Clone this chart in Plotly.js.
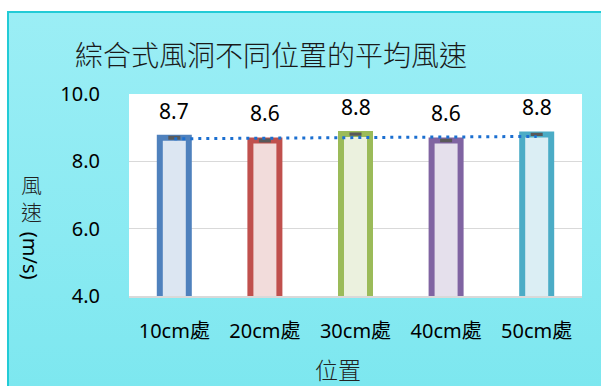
<!DOCTYPE html>
<html>
<head>
<meta charset="utf-8">
<script src="https://cdn.plot.ly/plotly-3.0.1.min.js"></script>
<style>
  html, body { margin: 0; padding: 0; background: #ffffff; width: 601px; height: 386px; overflow: hidden; }
  #bg { position: absolute; left: 7px; top: 11px; width: 600px; height: 380px;
        border-left: 2px solid #22cbd6; border-top: 2px solid #22cbd6;
        background: linear-gradient(to bottom, #9beef5 0%, #8aeaf2 60%, #7ce7ef 100%); }
  #chart { position: absolute; left: 0; top: 0; width: 601px; height: 386px; }
</style>
</head>
<body>
<div id="bg"></div>
<div id="chart"></div>
<script>
// ---- data ----
const categories = ['10cm處', '20cm處', '30cm處', '40cm處', '50cm處'];
const speeds = [8.70, 8.62, 8.81, 8.62, 8.80];
const errorValues = [0.03, 0.03, 0.02, 0.02, 0.02];
const trendCategories = ['10cm處', '50cm處'];
const trendValues = [8.67, 8.74];
const yTicks = [4, 6, 8, 10];

// ---- styles ----
const lineColors = ['#4f81bd', '#c0504d', '#9bbb59', '#8064a2', '#4bacc6'];
const fillColors = ['#dce6f2', '#f2dcdb', '#ebf1de', '#e5e0ec', '#dbeef4'];
const latin = '"Noto Sans", "Noto Sans CJK TC", sans-serif';
const cjk = '"Noto Sans CJK TC", "Noto Sans", sans-serif';

const bars = {
  type: 'bar',
  x: categories,
  y: speeds,
  base: 0,
  width: 0.32,
  marker: { color: fillColors, line: { color: lineColors, width: 6 } },
  error_y: { type: 'data', array: errorValues, visible: true, color: '#595959', thickness: 2, width: 6 },
  hoverinfo: 'skip',
  showlegend: false
};

const trend = {
  type: 'scatter',
  mode: 'lines',
  x: trendCategories,
  y: trendValues,
  line: { color: '#1b6fd0', width: 3, dash: '3px,5px' },
  hoverinfo: 'skip',
  showlegend: false
};

const annotations = categories.map((c, i) => ({
  x: c, y: speeds[i], xref: 'x', yref: 'y',
  text: speeds[i].toFixed(1),
  showarrow: false, yanchor: 'middle', yshift: 27,
  font: { family: latin, size: 21, color: '#000000' }
}));

annotations.push(
  { xref: 'paper', yref: 'paper', x: -0.216, y: 0.49, text: '風<br>速', showarrow: false,
    font: { family: cjk, size: 21, color: '#222222', weight: 300 }, xanchor: 'center', yanchor: 'middle' },
  { xref: 'paper', yref: 'paper', x: -0.216, y: 0.198, text: '(m/s)', showarrow: false, textangle: 90,
    font: { family: latin, size: 20, color: '#000000' }, xanchor: 'center', yanchor: 'middle' },
  { xref: 'paper', yref: 'paper', x: 0.461, y: -0.362, text: '位置', showarrow: false,
    font: { family: cjk, size: 23, color: '#222222', weight: 300 }, xanchor: 'center', yanchor: 'middle' }
);

const layout = {
  width: 601,
  height: 386,
  margin: { l: 129, r: 19, t: 94, b: 90 },
  paper_bgcolor: 'rgba(0,0,0,0)',
  plot_bgcolor: '#ffffff',
  title: {
    text: '綜合式風洞不同位置的平均風速',
    font: { family: cjk, size: 28, color: '#1a1a1a', weight: 300 },
    xref: 'container', yref: 'container',
    x: 0.451, xanchor: 'center', y: 0.855, yanchor: 'middle'
  },
  xaxis: {
    type: 'category',
    range: [-0.5, 4.5],
    showline: true, linecolor: '#d9d9d9', linewidth: 2,
    ticks: 'outside', ticklen: 16, tickcolor: 'rgba(0,0,0,0)',
    tickfont: { family: latin, size: 20, color: '#000000' },
    fixedrange: true
  },
  yaxis: {
    range: [4, 10],
    tickvals: yTicks,
    tickformat: '.1f',
    showgrid: true, gridcolor: '#d9d9d9', gridwidth: 1.5,
    zeroline: false,
    ticks: 'outside', ticklen: 24, tickcolor: 'rgba(0,0,0,0)',
    tickfont: { family: latin, size: 20, color: '#000000' },
    fixedrange: true
  },
  annotations: annotations,
  bargap: 0.6
};

Plotly.newPlot('chart', [bars, trend], layout, { staticPlot: true, displayModeBar: false });
</script>
</body>
</html>
